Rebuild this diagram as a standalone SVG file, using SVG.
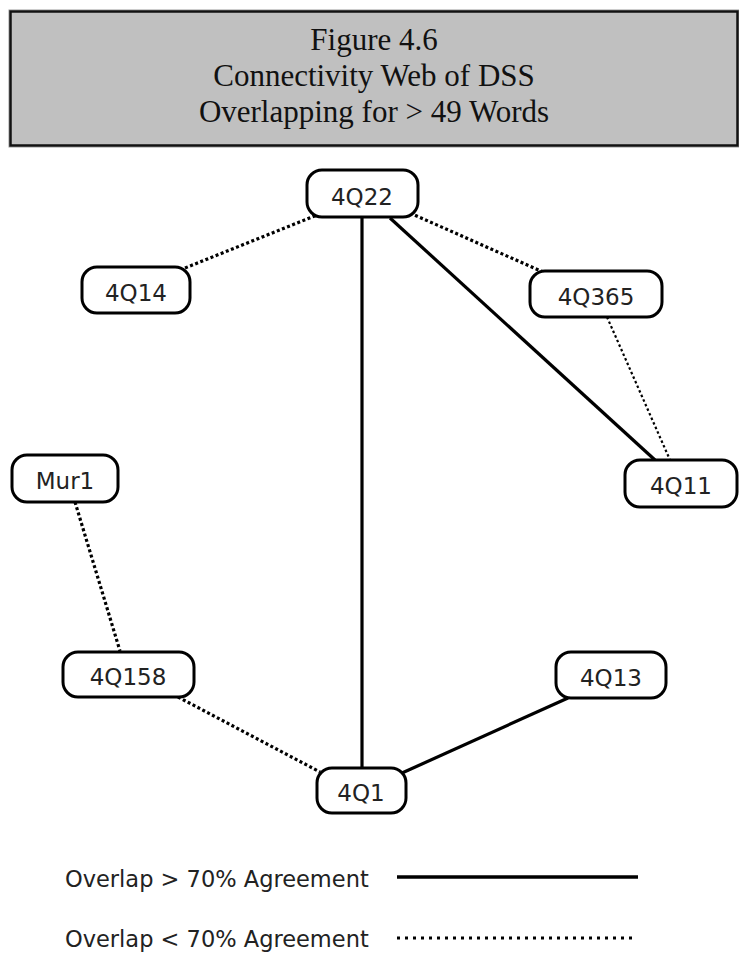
<svg xmlns="http://www.w3.org/2000/svg" width="739" height="953" viewBox="0 0 739 953">
  <style>
    .title { font-family: "Liberation Serif", "Times New Roman", serif; font-size: 31px; fill: #111; text-anchor: middle; }
    .node rect { fill: #ffffff; stroke: #000; stroke-width: 3; }
    .node text { font-family: "DejaVu Sans", Verdana, sans-serif; font-size: 23px; fill: #222; text-anchor: middle; }
    .solid { stroke: #000; stroke-width: 3.2; fill: none; }
    .dotted { stroke: #000; stroke-width: 3.2; stroke-dasharray: 3 2.5; fill: none; }
    .dotted.thin { stroke-width: 2.2; stroke-dasharray: 2.5 2.5; }
    .legend { font-family: "DejaVu Sans", Verdana, sans-serif; font-size: 22.5px; fill: #222; }
  </style>

  <!-- title banner -->
  <g id="title">
    <rect x="9" y="10" width="730" height="137" fill="none" stroke="#999" stroke-width="1"/>
    <rect x="10.5" y="11.5" width="727" height="134" fill="#c0c0c0" stroke="#111" stroke-width="2.5"/>
    <text class="title" x="374" y="50">Figure 4.6</text>
    <text class="title" x="374" y="86">Connectivity Web of DSS</text>
    <text class="title" x="374" y="122">Overlapping for &gt; 49 Words</text>
  </g>

  <!-- connectors -->
  <g id="connectors">
    <line class="solid" x1="362" y1="217" x2="362" y2="768"/>
    <line class="solid" x1="390" y1="218" x2="655" y2="460"/>
    <line class="solid" x1="402" y1="773" x2="568" y2="698"/>
    <line class="dotted" x1="185" y1="268" x2="317" y2="215"/>
    <line class="dotted" x1="410" y1="213" x2="543" y2="272"/>
    <line class="dotted thin" x1="607" y1="317" x2="670" y2="460"/>
    <line class="dotted" x1="75" y1="502" x2="120" y2="651"/>
    <line class="dotted" x1="178" y1="697" x2="320" y2="772"/>
  </g>

  <!-- nodes -->
  <g id="n4Q22" class="node">
    <rect x="307" y="170" width="111" height="47" rx="15"/>
    <text x="362" y="205">4Q22</text>
  </g>
  <g id="n4Q14" class="node">
    <rect x="82" y="267" width="108" height="46" rx="15"/>
    <text x="136" y="301">4Q14</text>
  </g>
  <g id="n4Q365" class="node">
    <rect x="530" y="271" width="132" height="46" rx="15"/>
    <text x="596" y="305">4Q365</text>
  </g>
  <g id="nMur1" class="node">
    <rect x="12" y="455" width="106" height="47" rx="15"/>
    <text x="65" y="489">Mur1</text>
  </g>
  <g id="n4Q11" class="node">
    <rect x="625" y="460" width="112" height="47" rx="15"/>
    <text x="681" y="494">4Q11</text>
  </g>
  <g id="n4Q158" class="node">
    <rect x="63" y="652" width="131" height="45" rx="15"/>
    <text x="128" y="685">4Q158</text>
  </g>
  <g id="n4Q13" class="node">
    <rect x="556" y="652" width="110" height="46" rx="15"/>
    <text x="611" y="686">4Q13</text>
  </g>
  <g id="n4Q1" class="node">
    <rect x="317" y="768" width="89" height="45" rx="15"/>
    <text x="361" y="801">4Q1</text>
  </g>

  <!-- legend -->
  <g id="legend">
    <text class="legend" x="65" y="887">Overlap &gt; 70% Agreement</text>
    <line x1="397" y1="877" x2="638" y2="877" stroke="#000" stroke-width="3.5"/>
    <text class="legend" x="65" y="947">Overlap &lt; 70% Agreement</text>
    <line x1="397" y1="938" x2="634" y2="938" stroke="#000" stroke-width="3" stroke-dasharray="3 5"/>
  </g>
</svg>
